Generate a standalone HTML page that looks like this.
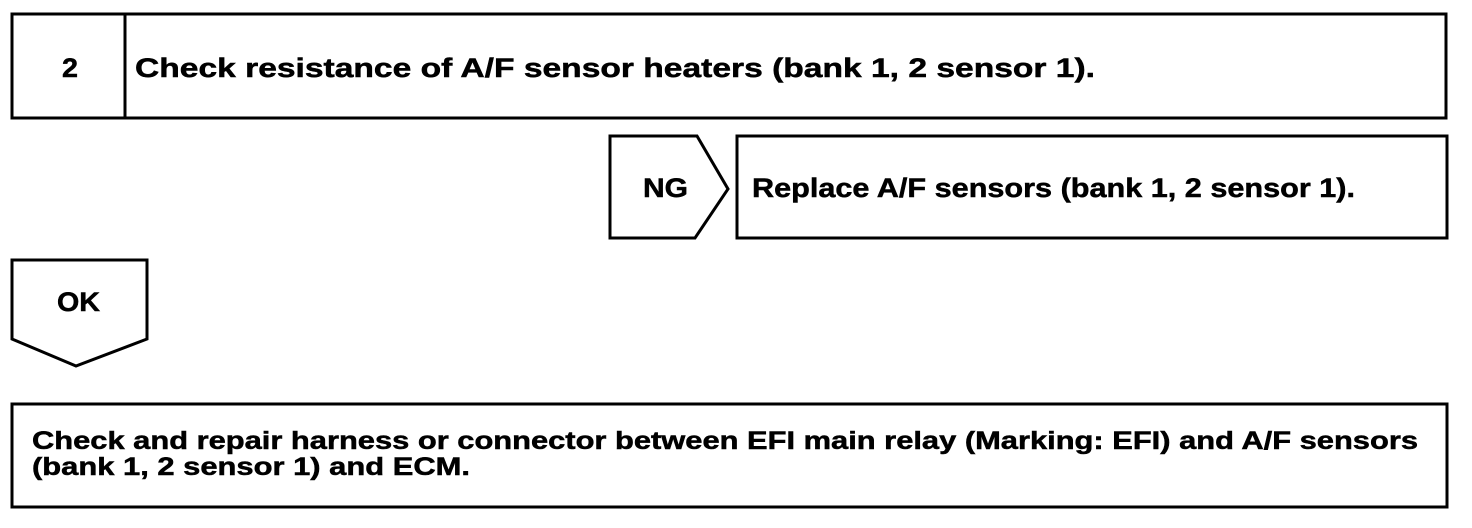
<!DOCTYPE html>
<html><head><meta charset="utf-8"><style>
html,body{margin:0;padding:0;background:#fff;}
svg{display:block;}
text{font-family:"Liberation Sans",Arial,sans-serif;font-weight:bold;fill:#000;stroke:#000;stroke-width:0.5;}
</style></head><body>
<svg width="1472" height="528" viewBox="0 0 1472 528" xmlns="http://www.w3.org/2000/svg">
<g fill="none" stroke="#000" stroke-width="3">
<rect x="12" y="14" width="1434" height="104"/>
<line x1="125" y1="14" x2="125" y2="118"/>
<polygon points="610,136 697,136 728,189 695,238 610,238"/>
<rect x="737" y="136" width="710" height="102"/>
<polygon points="12,260 147,260 147,339 76,366 12,339"/>
<rect x="12" y="404" width="1435" height="103"/>
</g>
<text x="62" y="77" font-size="27" textLength="16" lengthAdjust="spacingAndGlyphs">2</text>
<text x="135" y="77" font-size="27" textLength="960" lengthAdjust="spacingAndGlyphs">Check resistance of A/F sensor heaters (bank 1, 2 sensor 1).</text>
<text x="643" y="197" font-size="27" textLength="45" lengthAdjust="spacingAndGlyphs">NG</text>
<text x="752" y="197" font-size="27" textLength="603" lengthAdjust="spacingAndGlyphs">Replace A/F sensors (bank 1, 2 sensor 1).</text>
<text x="57" y="311" font-size="27" textLength="43" lengthAdjust="spacingAndGlyphs">OK</text>
<text x="32" y="449" font-size="25" textLength="1386" lengthAdjust="spacingAndGlyphs">Check and repair harness or connector between EFI main relay (Marking: EFI) and A/F sensors</text>
<text x="32" y="475" font-size="25" textLength="438" lengthAdjust="spacingAndGlyphs">(bank 1, 2 sensor 1) and ECM.</text>
</svg>
</body></html>
